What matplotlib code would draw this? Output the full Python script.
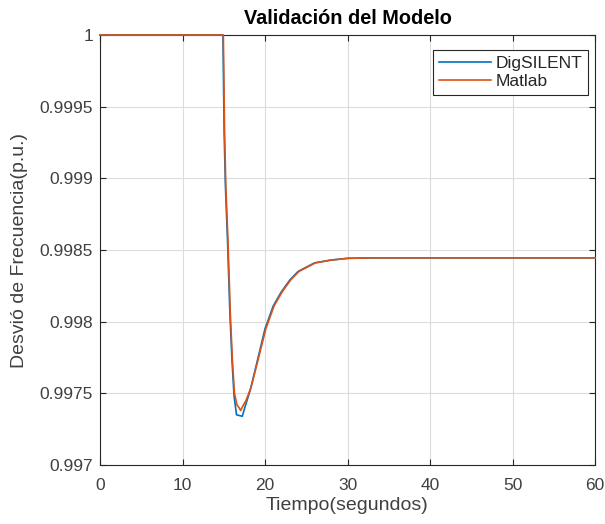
import matplotlib
matplotlib.use("Agg")
import matplotlib.pyplot as plt

t_dig = [0, 14.9, 15.05, 15.2, 15.45, 15.75, 16.0, 16.25, 16.55, 17.25, 17.6, 18.2, 19.0, 20.0,
         21.0, 22.0, 23.0, 24.0, 25.0, 26.0, 27.0, 28.0, 30.0, 33.0, 60.0]
v_dig = [1, 1, 0.99932, 0.99895, 0.99858, 0.99805, 0.99773, 0.99748, 0.99735, 0.99734, 0.99741,
         0.99752, 0.99771, 0.99795, 0.99811, 0.99821, 0.99829, 0.99835, 0.99838, 0.99841, 0.99842,
         0.99843, 0.998442, 0.998445, 0.998445]

t_mat = [0, 14.95, 15.1, 15.25, 15.5, 15.8, 16.05, 16.3, 16.6, 16.85, 17.05, 17.3, 17.7, 18.3,
         19.1, 20.1, 21.1, 22.1, 23.1, 24.1, 25.1, 26.1, 27.1, 28.1, 30.1, 33.0, 60.0]
v_mat = [1, 1, 0.99932, 0.99895, 0.99858, 0.99805, 0.99773, 0.99750, 0.99742, 0.99740, 0.99738,
         0.99741, 0.99745, 0.99754, 0.99772, 0.99795, 0.99811, 0.99821, 0.99829, 0.99835, 0.99838,
         0.99841, 0.99842, 0.99843, 0.998442, 0.998445, 0.998445]

x_ticks = [0, 10, 20, 30, 40, 50, 60]
y_ticks = [0.997, 0.9975, 0.998, 0.9985, 0.999, 0.9995, 1.0]
y_labels = ["0.997", "0.9975", "0.998", "0.9985", "0.999", "0.9995", "1"]

plt.rcParams['font.family'] = ['Liberation Sans', 'DejaVu Sans']

fig = plt.figure(figsize=(6.05, 5.24), dpi=100)
ax = fig.add_axes([100/605, 1-465/524, 495/605, 430/524])

ax.plot(t_dig, v_dig, color='#0072BD', lw=1.2, label='DigSILENT', clip_on=False, zorder=3)
ax.plot(t_mat, v_mat, color='#D95319', lw=1.2, label='Matlab', clip_on=False, zorder=3)

ax.set_xlim(0, 60)
ax.set_ylim(0.997, 1.0)
ax.set_xticks(x_ticks)
ax.set_yticks(y_ticks)
ax.set_yticklabels(y_labels)
ax.grid(True, color='#dcdcdc', lw=0.8)
ax.set_axisbelow(True)
ax.tick_params(direction='in', length=4, colors='#262626', labelcolor='#404040', labelsize=12.5,
               top=True, right=True, labeltop=False, labelright=False)
ax.tick_params(axis='x', pad=9)
ax.tick_params(axis='y', pad=5)
for s in ax.spines.values():
    s.set_color('#262626')
    s.set_linewidth(0.8)

ax.set_title('Validación del Modelo', fontsize=14.3, fontweight='bold', pad=8)
ax.set_xlabel('Tiempo(segundos)', fontsize=14, color='#404040', labelpad=3)
ax.set_ylabel('Desvió de Frecuencia(p.u.)', fontsize=14, color='#404040', labelpad=8)

leg = ax.legend(loc='upper right', bbox_to_anchor=(0.9859, 0.9651), borderaxespad=0,
                fancybox=False, edgecolor='#262626', fontsize=12.5,
                handlelength=3.0, framealpha=1, labelspacing=0.15,
                handletextpad=0.25, borderpad=0.35)
leg.get_frame().set_linewidth(0.8)
for txt in leg.get_texts():
    txt.set_color('#262626')

fig.savefig('out.png', dpi=100)
